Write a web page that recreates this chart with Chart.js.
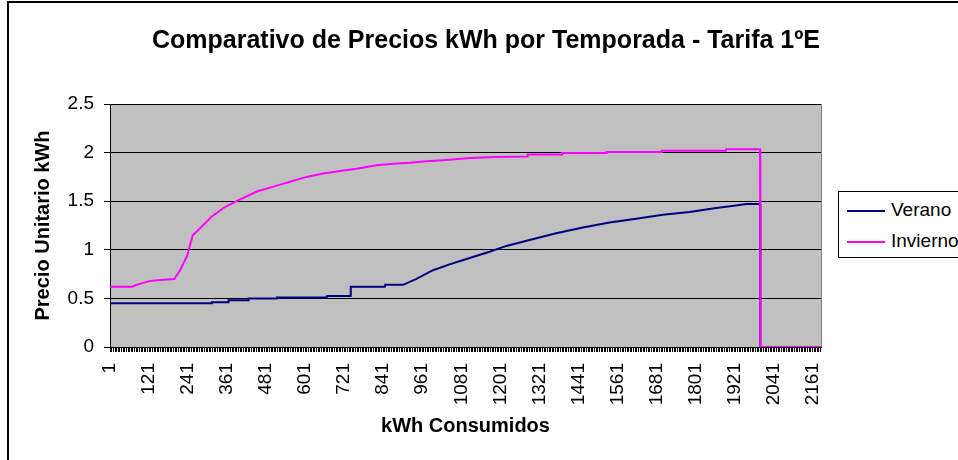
<!DOCTYPE html>
<html>
<head>
<meta charset="utf-8">
<script src="https://cdn.jsdelivr.net/npm/chart.js@4.4.1/dist/chart.umd.min.js"></script>
<style>
  html, body { margin: 0; padding: 0; background: #fff; }
  #wrap { position: relative; width: 958px; height: 460px; overflow: hidden; }
  #titulo {
    position: absolute; left: 0; top: 24px; width: 972px; text-align: center;
    font-family: "Liberation Sans", Arial, sans-serif; font-size: 25px; font-weight: bold;
    line-height: 30px; color: #000; white-space: nowrap;
  }
  #leyenda {
    position: absolute; left: 838px; top: 191px; width: 140px; height: 67px;
    border: 1px solid #000; background: #fff; box-sizing: border-box;
    font-family: "Liberation Sans", Arial, sans-serif; font-size: 19px; color: #000;
  }
  #leyenda .item { position: absolute; left: 8px; height: 24px; line-height: 24px; white-space: nowrap; }
  #leyenda .linea { display: inline-block; width: 38px; height: 2px; vertical-align: middle; margin-right: 6px; }
</style>
</head>
<body>
<div id="wrap">
  <canvas id="grafico" width="958" height="460"></canvas>
  <div id="titulo">Comparativo de Precios kWh por Temporada - Tarifa 1ºE</div>
  <div id="leyenda">
    <div class="item" style="top:6px"><span class="linea" style="background:#000080"></span>Verano</div>
    <div class="item" style="top:37px"><span class="linea" style="background:#FF00FF"></span>Invierno</div>
  </div>
</div>
<script>
// kWh consumidos (eje X) y precio unitario
const kwhVerano = [1, 313, 314, 364, 365, 426, 427, 513, 514, 667, 668, 740, 741, 846, 847, 902,
  943, 994, 1045, 1097, 1168, 1220, 1291, 1373, 1455, 1537, 1619, 1701, 1783, 1865, 1926, 1957,
  2000, 2001, 2187];
const precioVerano = [0.45, 0.45, 0.46, 0.46, 0.48, 0.48, 0.50, 0.50, 0.51, 0.51, 0.525, 0.525, 0.62, 0.62, 0.64, 0.64,
  0.70, 0.79, 0.85, 0.905, 0.98, 1.04, 1.10, 1.17, 1.23, 1.28, 1.32, 1.36, 1.39, 1.43, 1.455, 1.47,
  1.47, 0, 0];

const kwhInvierno = [1, 68, 83, 103, 124, 155, 198, 216, 238, 255, 277, 313, 354, 390, 452, 503,
  554, 605, 656, 708, 759, 820, 871, 923, 974, 1035, 1107, 1189, 1284, 1285, 1391, 1392,
  1527, 1528, 1696, 1697, 1895, 1896, 2000, 2001, 2187];
const precioInvierno = [0.62, 0.62, 0.64, 0.66, 0.68, 0.69, 0.70, 0.79, 0.94, 1.15, 1.22, 1.34, 1.44, 1.50, 1.60, 1.65,
  1.70, 1.75, 1.785, 1.81, 1.835, 1.87, 1.885, 1.895, 1.91, 1.925, 1.945, 1.955, 1.96, 1.98, 1.98, 1.995,
  1.995, 2.005, 2.005, 2.02, 2.02, 2.035, 2.035, 0, 0];

// etiquetas del eje X
const etiquetasX = [1, 121, 241, 361, 481, 601, 721, 841, 961, 1081, 1201, 1321, 1441, 1561, 1681, 1801, 1921, 2041, 2161];
const ultimoKwh = 2187;

const fuente = '"Liberation Sans", Arial, sans-serif';

const puntos = (xs, ys) => xs.map((x, i) => ({ x: x, y: ys[i] }));

// fondo gris del area de trazado y borde exterior
const fondoExcel = {
  id: "fondoExcel",
  beforeDraw(chart) {
    const { ctx, chartArea: a } = chart;
    ctx.save();
    ctx.fillStyle = "#C0C0C0";
    ctx.fillRect(a.left, a.top, a.right - a.left, a.bottom - a.top);
    ctx.strokeStyle = "#808080";
    ctx.lineWidth = 1;
    ctx.strokeRect(a.left + 0.5, a.top + 0.5, a.right - a.left, a.bottom - a.top);
    ctx.restore();
  },
  afterDraw(chart) {
    const ctx = chart.ctx;
    ctx.save();
    ctx.strokeStyle = "#000";
    ctx.lineWidth = 2;
    ctx.strokeRect(8, 2, 960, 460);
    ctx.restore();
  }
};

new Chart(document.getElementById("grafico"), {
  type: "line",
  data: {
    datasets: [
      {
        label: "Verano",
        data: puntos(kwhVerano, precioVerano),
        borderColor: "#000080",
        borderWidth: 2,
        pointRadius: 0,
        tension: 0,
        order: 1
      },
      {
        label: "Invierno",
        data: puntos(kwhInvierno, precioInvierno),
        borderColor: "#FF00FF",
        borderWidth: 2,
        pointRadius: 0,
        tension: 0,
        order: 0
      }
    ]
  },
  options: {
    responsive: false,
    animation: false,
    events: [],
    layout: { padding: { left: 0, right: 137, top: 104, bottom: 0 } },
    plugins: {
      legend: { display: false },
      tooltip: { enabled: false },
      title: { display: false }
    },
    scales: {
      x: {
        type: "linear",
        min: 0.5,
        max: ultimoKwh + 0.5,
        afterBuildTicks(scale) {
          const t = [];
          for (let v = 1; v <= ultimoKwh; v += 5) t.push({ value: v });
          scale.ticks = t;
        },
        afterFit(scale) { scale.height = 113; },
        ticks: {
          autoSkip: false,
          minRotation: 90,
          maxRotation: 90,
          padding: 11,
          color: "#000",
          font: { family: fuente, size: 19 },
          callback: (v) => etiquetasX.includes(v) ? String(v) : ""
        },
        grid: { drawOnChartArea: false, tickLength: 5, color: "#000", tickWidth: 1 },
        border: { color: "#000", width: 1 },
        title: {
          display: true,
          text: "kWh Consumidos",
          color: "#000",
          font: { family: fuente, size: 20, weight: "bold" },
          padding: { top: 0, bottom: 22 }
        }
      },
      y: {
        min: 0,
        max: 2.5,
        afterFit(scale) { scale.width = 110; },
        ticks: {
          stepSize: 0.5,
          padding: 10,
          color: "#000",
          font: { family: fuente, size: 19 },
          callback: (v) => String(v)
        },
        grid: { color: "#000", tickLength: 6, lineWidth: 1 },
        border: { color: "#000", width: 1 },
        title: {
          display: true,
          text: "Precio Unitario kWh",
          color: "#000",
          font: { family: fuente, size: 20, weight: "bold" },
          padding: { top: 31, bottom: 0 }
        }
      }
    }
  },
  plugins: [fondoExcel]
});
</script>
</body>
</html>
